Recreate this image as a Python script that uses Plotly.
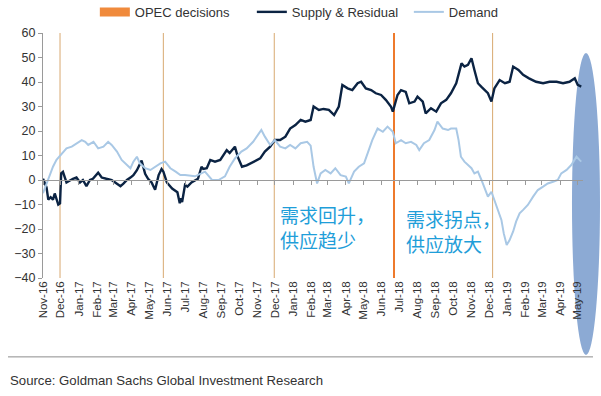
import plotly.graph_objects as go

# ---------------- data ----------------
supply_dates = [
    "2016-11-01","2016-11-07","2016-11-10","2016-11-14","2016-11-18","2016-11-21","2016-11-27","2016-11-30",
    "2016-12-02","2016-12-05","2016-12-11","2016-12-17","2016-12-22","2016-12-28",
    "2017-01-03","2017-01-08","2017-01-14","2017-01-20","2017-01-25",
    "2017-02-03","2017-02-09","2017-02-17","2017-02-26",
    "2017-03-04","2017-03-13","2017-03-18","2017-03-24","2017-03-30",
    "2017-04-04","2017-04-10","2017-04-15","2017-04-18","2017-04-24","2017-04-29",
    "2017-05-05","2017-05-11","2017-05-17","2017-05-22","2017-05-25","2017-05-31",
    "2017-06-09","2017-06-18","2017-06-22","2017-06-24","2017-06-26",
    "2017-07-01","2017-07-05","2017-07-12","2017-07-23","2017-07-29",
    "2017-08-01","2017-08-07","2017-08-13","2017-08-21","2017-08-30",
    "2017-09-04","2017-09-10","2017-09-15","2017-09-24","2017-09-29",
    "2017-10-06","2017-10-14","2017-10-25",
    "2017-11-06","2017-11-14","2017-11-23",
    "2017-12-01","2017-12-10","2017-12-19","2017-12-27",
    "2018-01-05","2018-01-14","2018-01-22","2018-01-31",
    "2018-02-05","2018-02-14","2018-02-22",
    "2018-03-03","2018-03-12","2018-03-20","2018-03-26",
    "2018-04-04","2018-04-12","2018-04-21","2018-04-27",
    "2018-05-05","2018-05-14","2018-05-22","2018-05-31",
    "2018-06-08","2018-06-17","2018-06-20","2018-06-28",
    "2018-07-04","2018-07-12","2018-07-18","2018-07-27",
    "2018-08-01","2018-08-10","2018-08-15","2018-08-24",
    "2018-09-02","2018-09-10","2018-09-19","2018-09-27",
    "2018-10-06","2018-10-15","2018-10-20","2018-10-26",
    "2018-11-01","2018-11-06","2018-11-12","2018-11-18","2018-11-24","2018-11-29",
    "2018-12-05","2018-12-10","2018-12-19","2018-12-28",
    "2019-01-05","2019-01-11","2019-01-20","2019-01-28",
    "2019-02-07","2019-02-19",
    "2019-03-03","2019-03-14","2019-03-26",
    "2019-04-06","2019-04-17","2019-04-26",
    "2019-05-01","2019-05-07",
]
supply_values = [
    0.5,-3,-8,-7,-8,-5.5,-10,-9.5,
    2.7,3.3,-1,0,0.5,1,
    -1,0,-2.5,0,0.5,
    3,1,0.5,0,
    -1,-2.5,-1.5,0,1,
    2,4,6.5,7.9,2.5,0.5,
    -1,-4,2,4.5,3.5,-1,
    -3.5,-5,-9.5,-7.5,-9,
    -2,-2.7,-1,0.5,5.4,
    4.5,4.8,8.2,7.5,8.2,
    10.2,12.2,11,13.6,9.3,
    5.4,6,7.5,
    8.8,11.6,13.6,
    16.3,16.3,17.7,21,
    22.4,24.5,23.8,24.5,
    30,28.6,29,
    28.6,26.5,30,38.8,
    37.4,36.7,39.5,40.1,
    37.4,36.7,35.4,34.7,
    32.7,29.9,27.9,34.7,
    36.7,36,31.3,32,
    34,32,27.2,29.3,
    27.9,31.3,32.7,35.4,
    39.5,47.6,46.3,47,
    49.7,44.9,39.5,38,36.7,35.4,
    32,37.4,40.8,39.5,
    40.1,46.3,44.9,42.9,
    41.5,40.1,
    39.5,40.1,40.1,
    39.5,40.1,41.5,
    38.8,38.1,
]

demand_dates = [
    "2016-11-01","2016-11-06","2016-11-10","2016-11-18","2016-11-24",
    "2016-12-03","2016-12-11","2016-12-20","2016-12-28",
    "2017-01-06","2017-01-12","2017-01-17","2017-01-26",
    "2017-02-03","2017-02-12","2017-02-20","2017-02-26",
    "2017-03-07","2017-03-15","2017-03-24","2017-03-30",
    "2017-04-04","2017-04-10","2017-04-15","2017-04-24",
    "2017-05-03","2017-05-11","2017-05-20","2017-05-28",
    "2017-06-06","2017-06-15","2017-06-23",
    "2017-07-01","2017-07-18",
    "2017-08-04","2017-08-16","2017-08-27",
    "2017-09-07","2017-09-15","2017-09-24",
    "2017-10-05","2017-10-14","2017-10-25",
    "2017-11-03","2017-11-08","2017-11-14","2017-11-23",
    "2017-12-01","2017-12-10","2017-12-19","2017-12-27",
    "2018-01-05","2018-01-14","2018-01-25","2018-01-31",
    "2018-02-05","2018-02-11","2018-02-17","2018-02-25",
    "2018-03-06","2018-03-14","2018-03-23",
    "2018-04-01","2018-04-06","2018-04-15","2018-04-23",
    "2018-05-02","2018-05-10","2018-05-16","2018-05-25",
    "2018-06-03","2018-06-11","2018-06-20","2018-06-25",
    "2018-07-04","2018-07-12","2018-07-21","2018-07-30",
    "2018-08-04","2018-08-12","2018-08-21","2018-08-30",
    "2018-09-04","2018-09-13","2018-09-22","2018-09-27",
    "2018-10-06","2018-10-10","2018-10-14","2018-10-20","2018-10-26",
    "2018-11-01","2018-11-06","2018-11-12","2018-11-18","2018-11-24","2018-11-29",
    "2018-12-05","2018-12-10","2018-12-16","2018-12-22","2018-12-26","2018-12-31",
    "2019-01-05","2019-01-11","2019-01-16","2019-01-22","2019-01-28",
    "2019-02-05","2019-02-14","2019-02-22",
    "2019-03-03","2019-03-11","2019-03-20","2019-03-28",
    "2019-04-03","2019-04-12","2019-04-20","2019-04-29",
    "2019-05-04","2019-05-07",
]
demand_values = [
    -5.4,-2,0.5,5.4,8.2,
    10.9,12.9,13.6,15,
    16.3,15.6,14.3,15.6,
    12.9,13.6,15.6,14.3,
    11.6,8.2,6.1,4.8,
    7.5,9.5,6.8,4.8,
    4.1,5.4,6.8,7.5,
    4.8,3.4,2,
    2,1.5,
    3.4,0,0,
    1.5,5.4,8.8,
    11.6,12.9,15.6,
    18.4,20.4,17.7,14.3,
    16.3,13.6,12.9,14.3,
    12.9,15,15.6,14,
    5.4,-1.4,2.7,4.1,
    2.7,4.8,2,
    1.4,-1.4,3.4,5.4,
    6.8,12.2,16.3,21,
    19.7,21.8,19.7,15,
    16.3,15,15.6,14.3,
    12.2,15,16.3,20.4,
    23.8,21,20.4,21,
    21,16.3,9.5,7.5,6.1,
    4.8,2.7,3.4,0,-4.1,-6.8,
    -4.8,-8.2,-12.2,-16.3,-21.8,-26.5,
    -24.5,-21,-17,-13.6,-12.2,
    -10.2,-6.8,-4.1,
    -2.7,-1.4,-0.7,0,
    2.7,4.1,6.1,9.5,
    8.2,7.5,
]

opec_dates = ["2016-11-30", "2017-05-25", "2017-11-30", "2018-06-22", "2018-12-07"]
opec_colors = ["#d8a970", "#d8a970", "#d8a970", "#ee7a2c", "#d8a970"]
opec_widths = [1, 1, 1, 2, 1]

x_range = ["2016-11-01", "2019-05-10"]
y_ticks = [60, 50, 40, 30, 20, 10, 0, -10, -20, -30, -40]

FONT = "Liberation Sans, Arial, sans-serif"
SUPPLY_C = "#0b2343"
DEMAND_C = "#a9c8e5"
OPEC_C = "#f08a3c"
CN_C = "#1f9ed9"

fig = go.Figure()

fig.add_trace(go.Scatter(
    x=[None], y=[None], mode="lines", name="OPEC decisions",
    line=dict(color=OPEC_C, width=9), hoverinfo="skip"))
fig.add_trace(go.Scatter(
    x=supply_dates, y=supply_values, mode="lines", name="Supply & Residual",
    line=dict(color=SUPPLY_C, width=2.4)))
fig.add_trace(go.Scatter(
    x=demand_dates, y=demand_values, mode="lines", name="Demand",
    line=dict(color=DEMAND_C, width=2)))
# carrier trace for the zero-line axis
fig.add_trace(go.Scatter(x=[None], y=[None], xaxis="x2", showlegend=False, hoverinfo="skip"))

for d, c, w in zip(opec_dates, opec_colors, opec_widths):
    fig.add_shape(type="line", xref="x", yref="paper", x0=d, x1=d, y0=0, y1=1,
                  line=dict(color=c, width=w), layer="below")

# highlight ellipse
fig.add_shape(type="circle", xref="paper", yref="paper",
              x0=0.9796, x1=1.0315, y0=-0.314, y1=0.918,
              fillcolor="rgba(120,155,205,0.85)", line=dict(width=0), layer="below")

# bottom rule
fig.add_shape(type="line", xref="paper", yref="paper",
              x0=-0.0648, x1=1.0185, y0=-0.322, y1=-0.322,
              line=dict(color="#8c8c8c", width=1))

fig.add_annotation(x="2017-12-07", y=-19, xref="x", yref="y", xanchor="left", yanchor="middle",
                   text="需求回升，<br>供应趋少", showarrow=False, align="left",
                   font=dict(family="Noto Sans CJK SC", size=19, color=CN_C))
fig.add_annotation(x="2018-07-09", y=-20.8, xref="x", yref="y", xanchor="left", yanchor="middle",
                   text="需求拐点，<br>供应放大", showarrow=False, align="left",
                   font=dict(family="Noto Sans CJK SC", size=19, color=CN_C))

fig.add_annotation(x=-0.0648, y=-0.42, xref="paper", yref="paper", xanchor="left", yanchor="middle",
                   text="Source: Goldman Sachs Global Investment Research", showarrow=False,
                   font=dict(family=FONT, size=13.2, color="#333333"))

fig.update_layout(
    width=601, height=396,
    margin=dict(l=43, r=18, t=33, b=118, autoexpand=False),
    paper_bgcolor="white", plot_bgcolor="rgba(0,0,0,0)",
    font=dict(family=FONT, size=12, color="#333333"),
    showlegend=True,
    legend=dict(orientation="h", x=0.096, xanchor="left", y=1.086, yanchor="middle",
                font=dict(family=FONT, size=13, color="#333333"),
                itemwidth=30, entrywidth=112, entrywidthmode="pixels",
                bgcolor="rgba(0,0,0,0)", tracegroupgap=0),
    xaxis=dict(type="date", range=x_range, tick0="2016-11-01", dtick="M1",
               tickformat="%b-%y", tickangle=-90, showgrid=False, showline=False,
               ticks="", zeroline=False, automargin=False,
               tickfont=dict(size=11.5, color="#333333")),
    xaxis2=dict(type="date", overlaying="x", matches="x", anchor="free", position=0.4,
                side="bottom", tick0="2016-11-01", dtick="M1", showticklabels=False,
                ticks="outside", ticklen=4, tickcolor="#9a9a9a", showline=True,
                linecolor="#9a9a9a", linewidth=1, showgrid=False, zeroline=False),
    yaxis=dict(range=[-40, 60], tickvals=y_ticks, showgrid=False, zeroline=False,
               showline=True, linecolor="#9a9a9a", linewidth=1, ticks="outside",
               ticklen=4, tickcolor="#9a9a9a", automargin=False,
               tickfont=dict(size=12.5, color="#333333")),
)

fig.write_html("out.html", config={"displayModeBar": False},
               post_script="document.body.style.margin='0';document.body.style.overflow='hidden';")
